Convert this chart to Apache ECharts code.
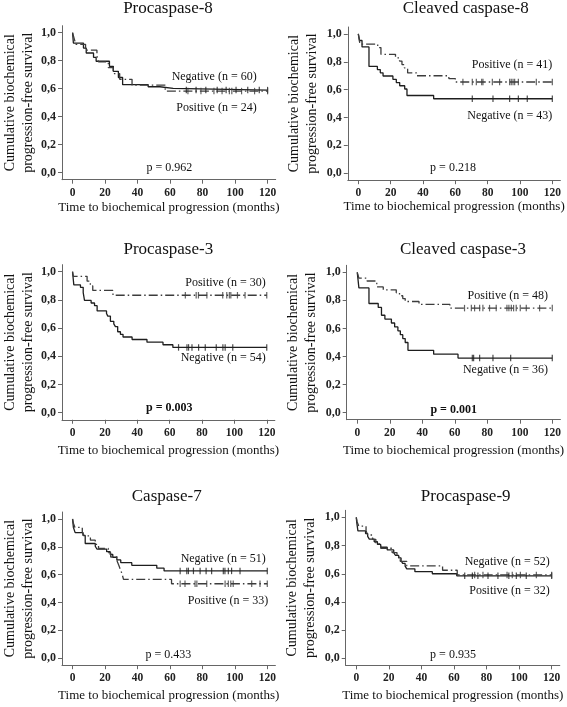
<!DOCTYPE html>
<html>
<head>
<meta charset="utf-8">
<script src="https://cdn.jsdelivr.net/npm/echarts@6/dist/echarts.min.js"></script>
<style>
html,body{margin:0;padding:0;background:#fff;}
#chart{width:567px;height:707px;}
</style>
</head>
<body>
<div id="chart"></div>
<script>
// ---------- tick labels ----------
const xTickValues = [0, 20, 40, 60, 80, 100, 120];
const yTickValues = [0, 0.2, 0.4, 0.6, 0.8, 1.0];

// ---------- panel titles / texts ----------
const panelTitles = ['Procaspase-8', 'Cleaved caspase-8', 'Procaspase-3', 'Cleaved caspase-3', 'Caspase-7', 'Procaspase-9'];
const pValues = ['p = 0.962', 'p = 0.218', 'p = 0.003', 'p = 0.001', 'p = 0.433', 'p = 0.935'];
const pBold = [false, false, true, true, false, false];
const negLabels = ['Negative (n = 60)', 'Negative (n = 43)', 'Negative (n = 54)', 'Negative (n = 36)', 'Negative (n = 51)', 'Negative (n = 52)'];
const posLabels = ['Positive (n = 24)', 'Positive (n = 41)', 'Positive (n = 30)', 'Positive (n = 48)', 'Positive (n = 33)', 'Positive (n = 32)'];

// ---------- Procaspase-8 ----------
const pc8NegTime = [0, 0.5, 6.7, 8.4, 12.9, 14.5, 22.7, 25.1, 28.2, 30.8, 46.5, 53.7, 61.9, 120];
const pc8NegSurv = [1.0, 0.926, 0.89, 0.855, 0.824, 0.796, 0.76, 0.724, 0.68, 0.629, 0.614, 0.603, 0.59, 0.59];
const pc8NegCens = [70, 76, 82, 89, 94.5, 100.6, 107.8, 114.9, 120];
const pc8PosTime = [0, 1, 2, 8, 15, 16, 22, 25, 29, 36.6, 57, 120];
const pc8PosSurv = [1.0, 0.958, 0.917, 0.875, 0.833, 0.792, 0.75, 0.708, 0.667, 0.625, 0.583, 0.583];
const pc8PosCens = [71, 79, 87, 92, 96.5, 98, 104, 112, 120];

// ---------- Cleaved caspase-8 ----------
const cc8NegTime = [0, 0.8, 2.3, 6.6, 11.8, 13.6, 15.3, 21.4, 23.5, 25.6, 28.7, 30.1, 46.6, 120];
const cc8NegSurv = [1.0, 0.953, 0.907, 0.767, 0.744, 0.721, 0.698, 0.674, 0.651, 0.628, 0.605, 0.558, 0.535, 0.535];
const cc8NegCens = [70.5, 83.3, 93.6, 99, 104.5, 120];
const cc8PosTime = [0, 1, 12, 14, 23, 25.5, 27, 28.5, 30.5, 36, 56, 60, 120];
const cc8PosSurv = [1.0, 0.927, 0.902, 0.854, 0.829, 0.805, 0.78, 0.756, 0.72, 0.7, 0.68, 0.655, 0.655];
const cc8PosCens = [64.7, 70.5, 73, 76.3, 77.1, 82.9, 87.4, 93.6, 94.6, 95.7, 96.7, 99, 110.1, 120];

// ---------- Procaspase-3 ----------
const pc3NegTime = [0, 0.8, 4.9, 6.6, 7.4, 11.5, 13.6, 15.2, 21, 21.8, 23.4, 25.5, 26.5, 27.9, 29.6, 31.2, 36.8, 46, 55.9, 62, 120];
const pc3NegSurv = [1.0, 0.907, 0.889, 0.852, 0.796, 0.778, 0.759, 0.722, 0.704, 0.685, 0.648, 0.63, 0.611, 0.574, 0.556, 0.537, 0.519, 0.5, 0.482, 0.463, 0.463];
const pc3NegCens = [65.5, 70.7, 71.7, 73.8, 77.9, 82, 88.8, 92.9, 94.3, 99, 120];
const pc3PosTime = [0, 0.5, 9, 11, 12.5, 25, 120];
const pc3PosSurv = [1.0, 0.967, 0.933, 0.9, 0.867, 0.833, 0.833];
const pc3PosCens = [69.7, 76.4, 77.8, 83, 92.8, 95.3, 96.9, 97.8, 101.9, 106.6, 120];

// ---------- Cleaved caspase-3 ----------
const cc3NegTime = [0, 0.5, 1, 7.2, 12.9, 14.9, 17, 21, 23, 25, 26.5, 28, 29.5, 31.2, 47, 62, 120];
const cc3NegSurv = [1.0, 0.944, 0.889, 0.778, 0.75, 0.694, 0.667, 0.639, 0.611, 0.583, 0.556, 0.528, 0.5, 0.444, 0.417, 0.389, 0.389];
const cc3NegCens = [70.8, 71.6, 75.3, 83.5, 94.4, 120];
const cc3PosTime = [0, 1, 6, 12, 16, 24, 26, 28, 29.5, 38, 57, 120];
const cc3PosSurv = [1.0, 0.958, 0.938, 0.896, 0.875, 0.854, 0.833, 0.813, 0.792, 0.771, 0.745, 0.745];
const cc3PosCens = [66, 70.2, 72.2, 75.3, 77.3, 81.4, 85.5, 92.1, 93.3, 94.8, 96.2, 97.8, 100.3, 104, 112.2, 120];

// ---------- Caspase-7 ----------
const c7NegTime = [0, 0.5, 1.6, 6.4, 7.8, 14, 15, 21, 23.2, 24.8, 27.3, 29.7, 36.5, 51.9, 56.4, 120];
const c7NegSurv = [1.0, 0.941, 0.902, 0.882, 0.824, 0.804, 0.784, 0.765, 0.745, 0.725, 0.706, 0.686, 0.667, 0.647, 0.627, 0.627];
const c7NegCens = [66.3, 70.4, 71.4, 74.5, 78.6, 82.3, 85.7, 92.9, 93.9, 96, 98, 103.2, 120];
const c7PosTime = [0, 0.5, 1.5, 6, 7, 11, 14, 16, 22, 23.5, 27.5, 28.5, 29.5, 30.5, 31.4, 61, 120];
const c7PosSurv = [1.0, 0.97, 0.939, 0.909, 0.879, 0.848, 0.818, 0.788, 0.758, 0.727, 0.697, 0.667, 0.636, 0.606, 0.566, 0.535, 0.535];
const c7PosCens = [66.3, 69.3, 75.5, 76.6, 82.7, 94, 96, 97.5, 99, 110.4, 115.5, 120];

// ---------- Procaspase-9 ----------
const pc9NegTime = [0, 0.3, 1, 5.7, 7, 8, 11, 13, 15, 19, 23, 24, 26, 27.5, 28.5, 30, 31, 36, 46.7, 61.7, 120];
const pc9NegSurv = [1.0, 0.962, 0.904, 0.885, 0.865, 0.846, 0.827, 0.808, 0.788, 0.769, 0.75, 0.731, 0.712, 0.692, 0.673, 0.654, 0.635, 0.615, 0.6, 0.585, 0.585];
const pc9NegCens = [66.6, 71.3, 74.7, 80.9, 87, 93.7, 98.3, 104.4, 120];
const pc9PosTime = [0, 0.5, 1.5, 6, 7, 10, 12, 15, 22, 25, 27, 31, 53, 62, 120];
const pc9PosSurv = [1.0, 0.969, 0.938, 0.906, 0.875, 0.844, 0.813, 0.781, 0.75, 0.719, 0.688, 0.656, 0.625, 0.592, 0.592];
const pc9PosCens = [72.7, 77.8, 92.6, 95.8, 100.8, 110.6, 120];

const groups = [
  [pc8NegTime, pc8NegSurv, pc8NegCens, pc8PosTime, pc8PosSurv, pc8PosCens],
  [cc8NegTime, cc8NegSurv, cc8NegCens, cc8PosTime, cc8PosSurv, cc8PosCens],
  [pc3NegTime, pc3NegSurv, pc3NegCens, pc3PosTime, pc3PosSurv, pc3PosCens],
  [cc3NegTime, cc3NegSurv, cc3NegCens, cc3PosTime, cc3PosSurv, cc3PosCens],
  [c7NegTime, c7NegSurv, c7NegCens, c7PosTime, c7PosSurv, c7PosCens],
  [pc9NegTime, pc9NegSurv, pc9NegCens, pc9PosTime, pc9PosSurv, pc9PosCens]
];

// ---------- layout (pixels) ----------
const layout = [
  {grid:{left:61.7, top:25.7, width:214, height:154}, yGap:25, xGap:21, title:[168, 9], p:[169.3, 168.3], neg:[256.7, 76.7], pos:[256.7, 108.3]},
  {grid:{left:347.8, top:27, width:212.6, height:153.2}, yGap:26, xGap:20, title:[465.7, 9], p:[453, 167.7], pos:[552.3, 65], neg:[552.3, 116]},
  {grid:{left:61.45, top:264.65, width:213.4, height:155.1}, yGap:25, xGap:24, title:[168.3, 250], p:[169.3, 408.3], pos:[265.7, 283.3], neg:[265.7, 358.3]},
  {grid:{left:346.7, top:265.3, width:213.7, height:154.4}, yGap:26, xGap:24, title:[463, 250], p:[453.7, 410], pos:[548, 296], neg:[548, 370]},
  {grid:{left:61.7, top:512, width:213.7, height:153.2}, yGap:25, xGap:24, title:[166.7, 497], p:[168.3, 655], neg:[265.7, 559], pos:[268.3, 601]},
  {grid:{left:345.7, top:510.3, width:214.1, height:155.1}, yGap:26, xGap:24, title:[465.7, 497], p:[453, 655], neg:[549.7, 561.7], pos:[549.7, 591]}
];

const FONT = '"Liberation Serif", "Times New Roman", serif';
const NEG_COLOR = '#1e1e1e';
const POS_COLOR = '#3c3c3c';
const AXIS_COLOR = '#666';

function survAt(T, S, t) {
  let v = S[0];
  for (let i = 0; i < T.length; i++) { if (T[i] <= t) v = S[i]; }
  return v;
}

const grids = [], xAxes = [], yAxes = [], series = [], graphics = [];
layout.forEach((L, i) => {
  grids.push(Object.assign({containLabel:false}, L.grid));
  xAxes.push({
    type:'value', gridIndex:i, min:-6.5, max:125,
    axisLine:{show:true, onZero:false, lineStyle:{color:AXIS_COLOR, width:1}},
    axisTick:{show:true, customValues:xTickValues, length:4, lineStyle:{color:AXIS_COLOR}},
    axisLabel:{customValues:xTickValues, fontSize:11.5, fontWeight:'bold', color:'#222', margin:7, fontFamily:FONT},
    splitLine:{show:false},
    name:'Time to biochemical progression (months)', nameLocation:'middle', nameGap:L.xGap,
    nameTextStyle:{fontSize:13, color:'#111', fontFamily:FONT}
  });
  yAxes.push({
    type:'value', gridIndex:i, min:-0.05, max:1.05,
    axisLine:{show:true, onZero:false, lineStyle:{color:AXIS_COLOR, width:1}},
    axisTick:{show:true, customValues:yTickValues, length:4, lineStyle:{color:AXIS_COLOR}},
    axisLabel:{customValues:yTickValues, fontSize:12, fontWeight:'bold', color:'#222', margin:6, fontFamily:FONT,
      formatter:v => v.toFixed(1).replace('.', ',')},
    splitLine:{show:false},
    name:'Cumulative biochemical\nprogression-free survival', nameLocation:'middle', nameGap:L.yGap,
    nameTextStyle:{fontSize:14, lineHeight:18, color:'#111', fontFamily:FONT, align:'center'}
  });
  const g = groups[i];
  const curves = [
    {T:g[0], S:g[1], C:g[2], color:NEG_COLOR, type:'solid'},
    {T:g[3], S:g[4], C:g[5], color:POS_COLOR, type:[9, 3, 1.5, 3]}
  ];
  curves.forEach(c => {
    series.push({
      type:'line', xAxisIndex:i, yAxisIndex:i, step:'end', symbol:'none', silent:true,
      data:c.T.map((t, j) => [t, c.S[j]]),
      lineStyle:{color:c.color, width:1.3, type:c.type}
    });
    series.push({
      type:'scatter', xAxisIndex:i, yAxisIndex:i, symbol:'rect', symbolSize:[1.2, 6.5], silent:true, z:3,
      data:c.C.map(t => [t, survAt(c.T, c.S, t)]),
      itemStyle:{color:c.color}
    });
  });
  graphics.push({type:'text', x:L.title[0], y:L.title[1], style:{text:panelTitles[i], fontSize:17, fontFamily:FONT, fill:'#111', align:'center', verticalAlign:'middle'}});
  graphics.push({type:'text', x:L.p[0], y:L.p[1], style:{text:pValues[i], fontSize:12, fontWeight:pBold[i] ? 'bold' : 'normal', fontFamily:FONT, fill:'#111', align:'center', verticalAlign:'middle'}});
  graphics.push({type:'text', x:L.neg[0], y:L.neg[1], style:{text:negLabels[i], fontSize:12, fontFamily:FONT, fill:'#111', align:'right', verticalAlign:'middle'}});
  graphics.push({type:'text', x:L.pos[0], y:L.pos[1], style:{text:posLabels[i], fontSize:12, fontFamily:FONT, fill:'#111', align:'right', verticalAlign:'middle'}});
});

const chart = echarts.init(document.getElementById('chart'), null, {renderer:'canvas'});
chart.setOption({
  animation:false,
  backgroundColor:'#fff',
  grid:grids, xAxis:xAxes, yAxis:yAxes, series:series, graphic:graphics
});
</script>
</body>
</html>
